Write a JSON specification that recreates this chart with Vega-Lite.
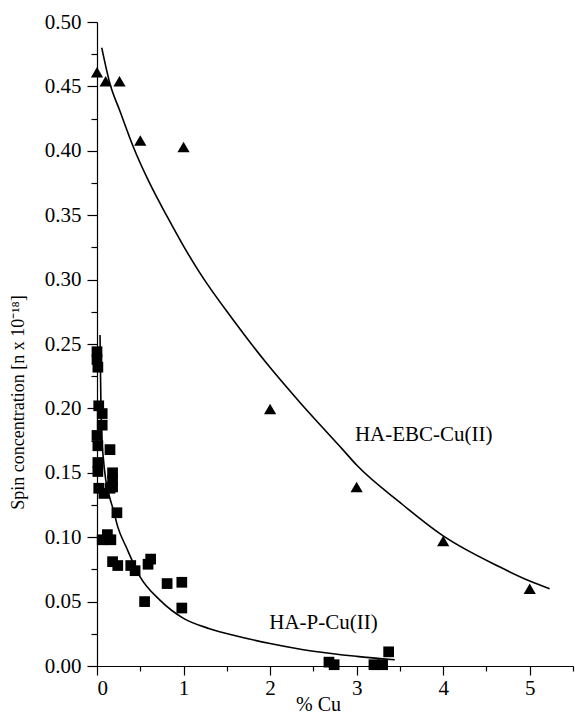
{
  "$schema": "https://vega.github.io/schema/vega-lite/v6.json",
  "width": 476,
  "height": 644,
  "autosize": "none",
  "padding": {"left": 97, "top": 22, "right": 2, "bottom": 52},
  "background": "white",
  "config": {
    "view": {"stroke": null},
    "font": "Liberation Serif",
    "axis": {"labelFont": "Liberation Serif", "titleFont": "Liberation Serif", "labelColor": "black", "titleColor": "black", "domainColor": "black", "tickColor": "black", "grid": false, "titleFontWeight": "normal", "domainWidth": 1.2, "tickWidth": 1.2}
  },
  "datasets": {
    "ebc_pts": [
      {"x": 0.0, "y": 0.461}, {"x": 0.10, "y": 0.454}, {"x": 0.26, "y": 0.454},
      {"x": 0.50, "y": 0.408}, {"x": 1.0, "y": 0.403}, {"x": 2.0, "y": 0.1995},
      {"x": 3.0, "y": 0.139}, {"x": 4.0, "y": 0.097}, {"x": 5.0, "y": 0.060}
    ],
    "p_pts": [
      {"x": 0.0, "y": 0.244}, {"x": 0.0, "y": 0.238}, {"x": 0.01, "y": 0.232},
      {"x": 0.02, "y": 0.202}, {"x": 0.06, "y": 0.196}, {"x": 0.06, "y": 0.187},
      {"x": 0.0, "y": 0.179}, {"x": 0.01, "y": 0.171}, {"x": 0.15, "y": 0.168},
      {"x": 0.01, "y": 0.158}, {"x": 0.01, "y": 0.151}, {"x": 0.18, "y": 0.150},
      {"x": 0.18, "y": 0.144}, {"x": 0.18, "y": 0.139}, {"x": 0.02, "y": 0.138},
      {"x": 0.08, "y": 0.134}, {"x": 0.15, "y": 0.138}, {"x": 0.23, "y": 0.119},
      {"x": 0.06, "y": 0.098}, {"x": 0.12, "y": 0.102}, {"x": 0.16, "y": 0.098},
      {"x": 0.18, "y": 0.081}, {"x": 0.24, "y": 0.078}, {"x": 0.39, "y": 0.078},
      {"x": 0.44, "y": 0.074}, {"x": 0.59, "y": 0.079}, {"x": 0.62, "y": 0.083},
      {"x": 0.55, "y": 0.050}, {"x": 0.81, "y": 0.064}, {"x": 0.98, "y": 0.065},
      {"x": 0.98, "y": 0.045}, {"x": 2.68, "y": 0.003}, {"x": 2.74, "y": 0.001},
      {"x": 3.2, "y": 0.001}, {"x": 3.3, "y": 0.001}, {"x": 3.37, "y": 0.011}
    ],
    "ebc_fit": [
      {"x": 0.055, "y": 0.480}, {"x": 0.15, "y": 0.452}, {"x": 0.27, "y": 0.430},
      {"x": 0.42, "y": 0.403}, {"x": 0.6, "y": 0.376}, {"x": 0.81, "y": 0.349},
      {"x": 1.0, "y": 0.326}, {"x": 1.19, "y": 0.305}, {"x": 1.57, "y": 0.269},
      {"x": 1.96, "y": 0.235}, {"x": 2.34, "y": 0.205}, {"x": 2.84, "y": 0.168},
      {"x": 3.0, "y": 0.156}, {"x": 3.5, "y": 0.127}, {"x": 4.0, "y": 0.101},
      {"x": 4.65, "y": 0.077}, {"x": 5.0, "y": 0.066}, {"x": 5.23, "y": 0.060}
    ],
    "p_fit": [
      {"x": 0.035, "y": 0.257}, {"x": 0.04, "y": 0.23}, {"x": 0.045, "y": 0.205},
      {"x": 0.055, "y": 0.18}, {"x": 0.075, "y": 0.16}, {"x": 0.1, "y": 0.145},
      {"x": 0.15, "y": 0.13}, {"x": 0.19, "y": 0.121}, {"x": 0.24, "y": 0.108},
      {"x": 0.34, "y": 0.092}, {"x": 0.5, "y": 0.069}, {"x": 0.73, "y": 0.051},
      {"x": 1.0, "y": 0.037}, {"x": 1.3, "y": 0.029}, {"x": 1.6, "y": 0.0235},
      {"x": 2.0, "y": 0.0175}, {"x": 2.5, "y": 0.0115}, {"x": 3.0, "y": 0.0075},
      {"x": 3.44, "y": 0.0048}
    ],
    "labels": [
      {"x": 2.98, "y": 0.175, "label": "HA-EBC-Cu(II)"},
      {"x": 1.99, "y": 0.029, "label": "HA-P-Cu(II)"}
    ]
  },
  "resolve": {"axis": {"x": "independent", "y": "independent"}},
  "layer": [
    {
      "data": {"name": "ebc_pts"},
      "mark": {"type": "point", "opacity": 0},
      "encoding": {
        "x": {"field": "x", "type": "quantitative", "scale": {"domain": [0, 5.5], "nice": false, "zero": false},
          "axis": {"orient": "bottom", "values": [0.5, 1.5, 2.5, 3.5, 4.5, 5.5], "labels": false, "tickSize": 5, "domain": false, "title": null}},
        "y": {"field": "y", "type": "quantitative", "scale": {"domain": [0, 0.5], "nice": false, "zero": false},
          "axis": {"orient": "left", "values": [0.025, 0.075, 0.125, 0.175, 0.225, 0.275, 0.325, 0.375, 0.425, 0.475], "labels": false, "tickSize": 6, "domain": false, "title": null}}
      }
    },
    {
      "data": {"name": "ebc_fit"},
      "mark": {"type": "line", "color": "black", "strokeWidth": 1.6, "interpolate": "monotone"},
      "encoding": {
        "x": {"field": "x", "type": "quantitative", "scale": {"domain": [0, 5.5], "nice": false, "zero": false},
          "axis": {"orient": "bottom", "values": [0, 1, 2, 3, 4, 5], "format": "d", "tickSize": 9, "labelFontSize": 21, "labelPadding": 2,
            "title": "% Cu", "titleFontSize": 20, "titlePadding": -4, "titleX": 221}},
        "y": {"field": "y", "type": "quantitative", "scale": {"domain": [0, 0.5], "nice": false, "zero": false},
          "axis": {"orient": "left", "values": [0, 0.05, 0.1, 0.15, 0.2, 0.25, 0.3, 0.35, 0.4, 0.45, 0.5], "format": ".2f", "tickSize": 10, "labelFontSize": 21, "labelPadding": 6,
            "title": "Spin concentration [n x 10⁻¹⁸]", "titleFontSize": 18, "titleX": -79, "titleY": 380, "titleBaseline": "middle", "titleAngle": -90}}
      }
    },
    {
      "data": {"name": "p_fit"},
      "mark": {"type": "line", "color": "black", "strokeWidth": 1.6, "interpolate": "monotone"},
      "encoding": {
        "x": {"field": "x", "type": "quantitative", "scale": {"domain": [0, 5.5]}, "axis": null},
        "y": {"field": "y", "type": "quantitative", "scale": {"domain": [0, 0.5]}, "axis": null}
      }
    },
    {
      "data": {"name": "ebc_pts"},
      "mark": {"type": "point", "shape": "triangle-up", "filled": true, "color": "black", "opacity": 1, "size": 150},
      "encoding": {
        "x": {"field": "x", "type": "quantitative", "scale": {"domain": [0, 5.5]}, "axis": null},
        "y": {"field": "y", "type": "quantitative", "scale": {"domain": [0, 0.5]}, "axis": null}
      }
    },
    {
      "data": {"name": "p_pts"},
      "mark": {"type": "point", "shape": "square", "filled": true, "color": "black", "opacity": 1, "size": 115},
      "encoding": {
        "x": {"field": "x", "type": "quantitative", "scale": {"domain": [0, 5.5]}, "axis": null},
        "y": {"field": "y", "type": "quantitative", "scale": {"domain": [0, 0.5]}, "axis": null}
      }
    },
    {
      "data": {"name": "labels"},
      "mark": {"type": "text", "align": "left", "baseline": "alphabetic", "font": "Liberation Serif", "fontSize": 21, "color": "black"},
      "encoding": {
        "x": {"field": "x", "type": "quantitative", "scale": {"domain": [0, 5.5]}, "axis": null},
        "y": {"field": "y", "type": "quantitative", "scale": {"domain": [0, 0.5]}, "axis": null},
        "text": {"field": "label"}
      }
    }
  ]
}
